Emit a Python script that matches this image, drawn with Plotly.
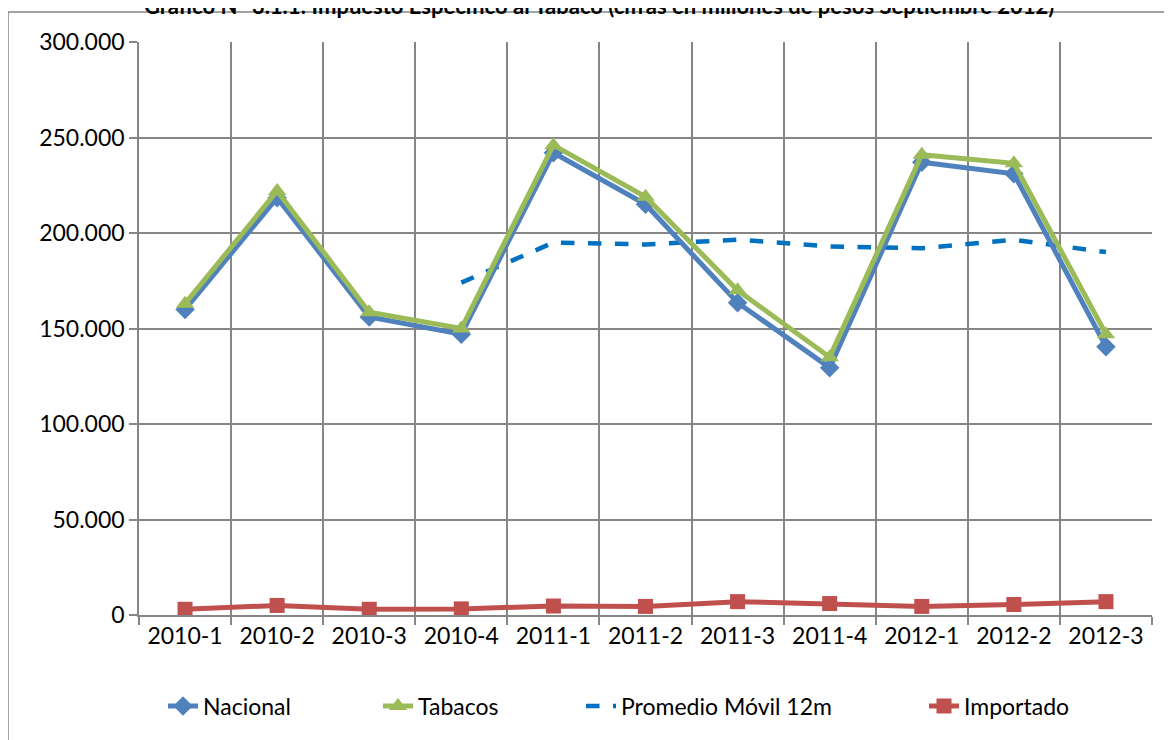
import plotly.graph_objects as go

categories = ["2010-1", "2010-2", "2010-3", "2010-4", "2011-1", "2011-2",
              "2011-3", "2011-4", "2012-1", "2012-2", "2012-3"]
nacional = [160000, 218500, 156000, 147000, 242000, 215000, 163500, 129500, 237000, 231000, 140500]
tabacos = [163000, 222000, 158500, 150000, 246000, 219000, 170000, 135000, 241000, 236500, 147000]
promedio_movil = [None, None, None, 174000, 195000, 194000, 196500, 193000, 192000, 196500, 190000]
importado = [3000, 5000, 3000, 3200, 4700, 4500, 7000, 6000, 4500, 5500, 7000]

title_text = "Gráfico N° 3.1.1: Impuesto Específico al Tabaco (cifras en millones de pesos Septiembre 2012)"

FONT = "Lato"
FS = 23

# page offset (body margin) compensation
OFF = 8
W, H = 1172, 740
L, R, T, B = 139 - OFF, 1152 - OFF, 42 - OFF, 615 - OFF

def px_x(p):
    return (p - OFF - L) / (R - L)

def px_y(p):
    return (B - (p - OFF)) / (B - T)

fig = go.Figure()
fig.add_trace(go.Scatter(x=categories, y=promedio_movil, name="Promedio Móvil 12m",
                         mode="lines", line=dict(color="#0070C0", width=4.5, dash="dash"),
                         legend="legend3"))
fig.add_trace(go.Scatter(x=categories, y=nacional, name="Nacional", mode="lines+markers",
                         line=dict(color="#4F81BD", width=5),
                         marker=dict(symbol="diamond", size=15, color="#4F81BD"),
                         legend="legend"))
fig.add_trace(go.Scatter(x=categories, y=tabacos, name="Tabacos", mode="lines+markers",
                         line=dict(color="#9BBB59", width=5),
                         marker=dict(symbol="triangle-up", size=16, color="#9BBB59"),
                         legend="legend2"))
fig.add_trace(go.Scatter(x=categories, y=importado, name="Importado", mode="lines+markers",
                         line=dict(color="#C0504D", width=5),
                         marker=dict(symbol="square", size=15, color="#C0504D"),
                         legend="legend4"))

def leg(text_start):
    return dict(orientation="h", x=px_x(text_start - 40), xanchor="left",
                y=px_y(706), yanchor="middle", font=dict(family=FONT, size=FS),
                bgcolor="rgba(0,0,0,0)")

fig.update_layout(
    width=W, height=H,
    margin=dict(l=L, r=W - R, t=T, b=H - B),
    paper_bgcolor="white", plot_bgcolor="white",
    separators=",.",
    font=dict(family=FONT, size=FS, color="black"),
    showlegend=True,
    legend=leg(203), legend2=leg(418), legend3=leg(621), legend4=leg(964),
    hovermode=False,
    annotations=[dict(text="<b>" + title_text + "</b>", xref="paper", yref="paper",
                      x=px_x(599), y=px_y(6), xanchor="center", yanchor="middle",
                      showarrow=False, font=dict(family=FONT, size=22, color="black"))],
    shapes=[dict(type="rect", xref="paper", yref="paper",
                 x0=px_x(8), x1=px_x(1190), y0=px_y(760), y1=px_y(12),
                 line=dict(color="#868686", width=1.5), layer="below")],
)

fig.update_xaxes(
    type="category", range=[-0.5, 10.5], tickson="boundaries",
    showgrid=True, gridcolor="#868686", gridwidth=1.5,
    showline=True, linecolor="#868686", linewidth=1.5,
    ticks="outside", ticklen=8, tickcolor="#868686", tickwidth=1.5,
    tickfont=dict(family=FONT, size=FS), fixedrange=True,
)
fig.update_yaxes(
    range=[0, 300000], tickvals=[0, 50000, 100000, 150000, 200000, 250000, 300000],
    tickformat=",.0f",
    showgrid=True, gridcolor="#868686", gridwidth=1.5,
    showline=True, linecolor="#868686", linewidth=1.5, zeroline=False,
    ticks="outside", ticklen=8, tickcolor="#868686", tickwidth=1.5,
    tickfont=dict(family=FONT, size=FS), fixedrange=True,
)

fig.write_html("out.html")
